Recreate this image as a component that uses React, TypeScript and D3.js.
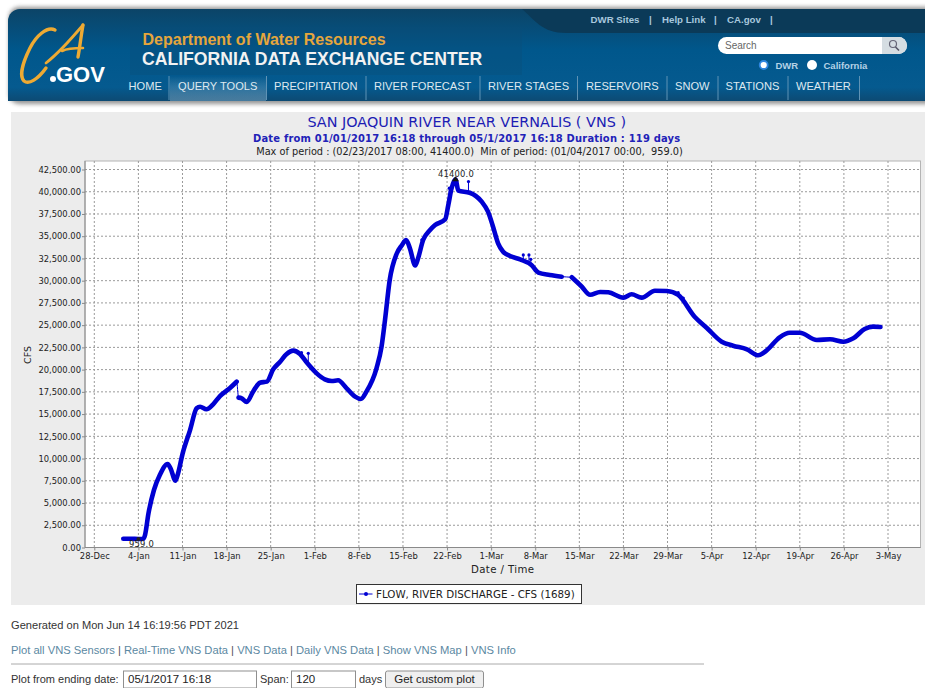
import React, { useEffect, useRef } from 'react'
import * as d3 from 'd3'

// days counted from 28-Dec-2016, flow in CFS
const flowDays = [4.6, 6, 7, 7.8, 8.05, 8.6, 9.47, 10.4, 11.65, 12.1, 12.9, 13.3, 14, 15.2, 16.25, 16.8, 17.8, 18.9, 19.95, 21.3, 22.6,
  22.9, 23.4, 24.2, 25.2, 26.3, 27.4, 28.4, 29.5, 30.5, 31.6, 32.65, 33.7, 35.3, 36.6, 37.7, 38.7, 40.06, 41.4, 42.3, 43.2, 44.8, 45.6, 46.15, 46.9, 48, 48.8, 49.5, 50.1, 50.95, 51.4, 52.2, 53.3, 54.1, 55.7, 56.2, 56.7, 57.33, 57.8, 59.6, 61.5, 62.5, 63.3, 64.1, 64.9, 66, 67.6, 69.4, 70.5, 72.3, 74.2,
  75.8, 77.4, 78.7, 80.3, 81.6, 84, 85.3, 86.9, 89, 90.9, 92.7, 95.3, 97.2, 99.6, 101.4, 103.6, 105.4, 106.7, 108.8, 110.4, 112, 114.7, 116.8, 118.9, 120.5, 122.3, 123.6, 124.8]
const flowValues = [990, 980, 959, 990, 1400, 3840, 6465, 8150, 9390, 8900, 7510, 8340, 10500, 13200, 15650, 15830, 15540, 16130, 17030, 17780, 18640,
  16850, 16770, 16360, 17520, 18530, 18650, 20030, 20890, 21720, 22130, 21760, 20820, 19580, 18910, 18720, 18800, 17900, 16960, 16700, 17520, 20150, 22580, 25580, 30080, 33030, 33960, 34570, 33640, 31710, 32520, 34570, 35700, 36260, 36900, 38510, 40340, 41400, 40120, 39890, 38880, 37760, 36070, 34200, 33260, 32780, 32400, 31760, 30900, 30640, 30450,
  30380, 29320, 28420, 28730, 28690, 28090, 28470, 28090, 28870, 28840, 28390, 25950, 24710, 23140, 22690, 22280, 21610, 22130, 23630, 24150, 24150, 23330, 23410, 23140, 23520, 24570, 24830, 24790]
// the thick line stops after these days, only the thin link carries on
const breakDays = [22.6, 74.2]

// stray readings that stick out of the line
const spikeDays = [32.9, 33.97, 52, 56.35, 59.4, 68.1, 69, 69.3, 92.7, 93.5]
const spikeTops = [21900, 21830, 34600, 40400, 41140, 32890, 32890, 32400, 28650, 28040]
const spikeBases = [21700, 20600, 34000, 39200, 39950, 32300, 31950, 31800, 28400, 27800]

const yTicks = [0, 2500, 5000, 7500, 10000, 12500, 15000, 17500, 20000, 22500, 25000, 27500, 30000, 32500, 35000, 37500, 40000, 42500]
const xTickDays = [0, 7, 14, 21, 28, 35, 42, 49, 56, 63, 70, 77, 84, 91, 98, 105, 112, 119, 126]
const xTickLabels = ['28-Dec', '4-Jan', '11-Jan', '18-Jan', '25-Jan', '1-Feb', '8-Feb', '15-Feb', '22-Feb', '1-Mar', '8-Mar', '15-Mar', '22-Mar', '29-Mar', '5-Apr', '12-Apr', '19-Apr', '26-Apr', '3-May']

const navLabels = ['HOME', 'QUERY TOOLS', 'PRECIPITATION', 'RIVER FORECAST', 'RIVER STAGES', 'RESERVOIRS', 'SNOW', 'STATIONS', 'WEATHER']
const navStarts = [128.5, 178, 274, 374, 488, 586, 675, 725.5, 796]
const navSeps = [169, 266.5, 366, 480, 577.5, 667, 718, 788, 859.5]
const topLinks = ['DWR Sites', '|', 'Help Link', '|', 'CA.gov', '|']
const topLinkStarts = [590.5, 649, 662, 714, 727, 770]
const footerLinks = ['Plot all VNS Sensors', 'Real-Time VNS Data', 'VNS Data', 'Daily VNS Data', 'Show VNS Map', 'VNS Info']

const chartFont = '"DejaVu Sans", sans-serif'
const webFont = '"Liberation Sans", Arial, sans-serif'
const lineBlue = '#0000d2'

const margin = { left: 85, right: 920.5, top: 161, bottom: 547.5 }

const x = d3.scaleLinear().domain([0, 126]).range([94.3, 888])
const y = d3.scaleLinear().domain([0, 42500]).range([margin.bottom, 169.5])

const line = d3.line<number>()
  .x(i => x(flowDays[i]))
  .y(i => y(flowValues[i]))
  .curve(d3.curveMonotoneX)

const allIdx = flowDays.map((_, i) => i)
const segments: number[][] = []
let cur: number[] = []
allIdx.forEach(i => {
  cur.push(i)
  if (breakDays.includes(flowDays[i])) {
    segments.push(cur)
    cur = []
  }
})
segments.push(cur)

export default function App() {
  const xAxisRef = useRef<SVGGElement>(null)
  const yAxisRef = useRef<SVGGElement>(null)

  useEffect(() => {
    const style = g => {
      g.selectAll('text').attr('font-family', chartFont).attr('font-size', 8.4).attr('fill', '#222')
      g.selectAll('.domain').attr('stroke', '#8a8a8a')
      g.selectAll('.tick line').attr('stroke', '#8a8a8a')
    }
    d3.select(xAxisRef.current)
      .call(d3.axisBottom(x).tickValues(xTickDays).tickSize(3).tickPadding(3).tickFormat((_, i) => xTickLabels[i]))
      .call(style)
      .call(g => g.select('.domain').attr('d', `M${margin.left},0H${margin.right}`))
    d3.select(yAxisRef.current)
      .call(d3.axisLeft(y).tickValues(yTicks).tickSize(3).tickPadding(1).tickFormat(d3.format(',.2f')))
      .call(style)
      .call(g => g.select('.domain').attr('d', `M0,${margin.top}V${margin.bottom}`))
  }, [])

  return (
    <svg width={925} height={688} style={{ position: 'absolute', left: 0, top: 0, background: '#fff' }}>
      <defs>
        <linearGradient id="hdr" x1="0" x2="0" y1="0" y2="1">
          <stop offset="0" stopColor="#0c4467" />
          <stop offset="0.45" stopColor="#00578c" />
          <stop offset="0.85" stopColor="#055a8f" />
          <stop offset="1" stopColor="#0d4a73" />
        </linearGradient>
        <linearGradient id="navHi" x1="0" x2="0" y1="0" y2="1">
          <stop offset="0" stopColor="#fff" stopOpacity="0" />
          <stop offset="1" stopColor="#9fc4dc" stopOpacity="0.4" />
        </linearGradient>
        <filter id="soft" x="-5%" y="-20%" width="110%" height="140%">
          <feGaussianBlur stdDeviation="2.2" />
        </filter>
      </defs>

      {/* banner */}
      <rect x={9} y={7} width={930} height={97} rx={10} fill="#6f6f6f" opacity={0.75} filter="url(#soft)" />
      <path d="M8,101V21a12,12 0 0 1 12,-12H925V101Z" fill="url(#hdr)" />
      <rect x={130} y={27} width={392} height={48} fill="#0c4c78" opacity={0.35} />
      <path d="M522,9C535,20 542,33 566,33H925V9Z" fill="#0b3a58" />

      {/* logo */}
      <g fill="none" stroke="#eeaa33" strokeLinecap="round" strokeLinejoin="round">
        <path d="M55,30C47,26 36,36 30,48C23,62 19,76 24,81C29,85 38,79 46,68" strokeWidth={3.4} />
        <path d="M83,25C72,38 60,52 46,63" strokeWidth={2.8} />
        <path d="M83,25C81,36 80,46 78,57" strokeWidth={3.4} />
        <path d="M62,51C68,48 76,48 83,48" strokeWidth={2.6} />
      </g>
      <circle cx={53} cy={79} r={3} fill="#fff" />
      <text x={56} y={81.5} fontFamily={webFont} fontSize={22} fontWeight="bold" fill="#fff">GOV</text>

      <text x={142.5} y={45} fontFamily={webFont} fontSize={16} fontWeight="bold" fill="#e5a63c">Department of Water Resources</text>
      <text x={142} y={65} fontFamily={webFont} fontSize={17.6} fontWeight="bold" fill="#f2f2f2">CALIFORNIA DATA EXCHANGE CENTER</text>

      {topLinks.map((t, i) => (
        <text key={i} x={topLinkStarts[i]} y={23} fontFamily={webFont} fontSize={9.7} fontWeight="bold" fill="#a8c8de">{t}</text>
      ))}

      <rect x={718} y={37} width={189} height={17} rx={8.5} fill="#fff" />
      <path d="M882,37H898.5a8.5,8.5 0 0 1 0,17H882Z" fill="#d5dde2" />
      <circle cx={893} cy={44} r={3.5} fill="none" stroke="#667" strokeWidth={1.2} />
      <path d="M895.5,47L899,50.5" stroke="#556" strokeWidth={1.6} />
      <text x={725} y={48.5} fontFamily={webFont} fontSize={10} fill="#666">Search</text>
      <circle cx={763.7} cy={65} r={4} fill="#fff" stroke="#2f86e0" strokeWidth={1.8} />
      <text x={775.5} y={69} fontFamily={webFont} fontSize={9.5} fontWeight="bold" fill="#b5d2e6">DWR</text>
      <circle cx={812} cy={65} r={5} fill="#fff" />
      <text x={823.5} y={69} fontFamily={webFont} fontSize={9.5} fontWeight="bold" fill="#b5d2e6">California</text>

      <rect x={170} y={76} width={96} height={25} fill="url(#navHi)" />
      {navLabels.map((t, i) => (
        <g key={t}>
          <text x={navStarts[i]} y={89.5} fontFamily={webFont} fontSize={11.1} fill="#dfe9f0">{t}</text>
          <line x1={navSeps[i]} x2={navSeps[i]} y1={76} y2={100} stroke="#5f93b5" />
        </g>
      ))}

      {/* chart panel */}
      <rect x={11} y={112} width={914} height={493} fill="#ececec" />
      <text x={466.7} y={126.5} textAnchor="middle" fontFamily={chartFont} fontSize={14.4} fill="#1c1cb4">SAN JOAQUIN RIVER NEAR VERNALIS ( VNS )</text>
      <text x={466.7} y={141.5} textAnchor="middle" fontFamily={chartFont} fontSize={9.95} fontWeight="bold" fill="#2222b8" letterSpacing={0.2}>Date from 01/01/2017 16:18 through 05/1/2017 16:18 Duration : 119 days</text>
      <text x={469.5} y={155} textAnchor="middle" fontFamily={chartFont} fontSize={9.75} fill="#222" style={{ whiteSpace: 'pre' }}>{'Max of period : (02/23/2017 08:00, 41400.0)  Min of period: (01/04/2017 00:00,  959.0)'}</text>

      <rect x={margin.left} y={margin.top} width={margin.right - margin.left} height={margin.bottom - margin.top} fill="#fff" stroke="#b4b4b4" />

      <g stroke="#9a9a9a" strokeDasharray="2,2">
        {yTicks.slice(1).map(v => (
          <line key={v} x1={margin.left} x2={margin.right} y1={y(v)} y2={y(v)} />
        ))}
        {xTickDays.map(d => (
          <line key={d} x1={x(d)} x2={x(d)} y1={margin.top} y2={margin.bottom} />
        ))}
      </g>

      <g ref={xAxisRef} transform={`translate(0,${margin.bottom})`} />
      <g ref={yAxisRef} transform={`translate(${margin.left},0)`} />

      <text transform="translate(31,355) rotate(-90)" textAnchor="middle" fontFamily={chartFont} fontSize={9.5} fill="#222">CFS</text>
      <text x={502.7} y={573} textAnchor="middle" fontFamily={chartFont} fontSize={10.2} fill="#222" letterSpacing={0.4}>Date / Time</text>

      {/* series */}
      <path d={line(allIdx) ?? ''} fill="none" stroke={lineBlue} strokeWidth={1} />
      {segments.map((s, i) => (
        <path key={i} d={line(s) ?? ''} fill="none" stroke={lineBlue} strokeWidth={4.6} strokeLinecap="round" strokeLinejoin="round" />
      ))}
      {spikeDays.map((d, i) => (
        <g key={d}>
          <line x1={x(d)} x2={x(d)} y1={y(spikeBases[i])} y2={y(spikeTops[i])} stroke={lineBlue} strokeWidth={1} />
          <circle cx={x(d)} cy={y(spikeTops[i])} r={1.6} fill={lineBlue} />
        </g>
      ))}
      <path d={`M${x(57.33)},${y(41400) - 3}l3.5,5h-7Z`} fill="#111" />
      <circle cx={x(7)} cy={y(959)} r={2} fill="#222" />
      <text x={456} y={176.5} textAnchor="middle" fontFamily={chartFont} fontSize={8.4} fill="#222" letterSpacing={0.2}>41400.0</text>
      <text x={141.5} y={547} textAnchor="middle" fontFamily={chartFont} fontSize={8.4} fill="#222" letterSpacing={0.2}>959.0</text>

      {/* legend */}
      <rect x={356.5} y={584.5} width={225} height={19} fill="#fff" stroke="#333" />
      <line x1={359} x2={372.5} y1={594} y2={594} stroke={lineBlue} />
      <circle cx={366} cy={594} r={2} fill={lineBlue} />
      <text x={376} y={597.5} fontFamily={chartFont} fontSize={10.3} fill="#222">FLOW, RIVER DISCHARGE - CFS (1689)</text>

      {/* page footer */}
      <text x={11} y={629} fontFamily={webFont} fontSize={11.1} fill="#333">Generated on Mon Jun 14 16:19:56 PDT 2021</text>
      <text x={11} y={654} fontFamily={webFont} fontSize={11.2} fill="#5b88a2">
        {footerLinks.map((t, i) => (
          <tspan key={t}>
            {t}
            {i < footerLinks.length - 1 ? <tspan fill="#555"> | </tspan> : null}
          </tspan>
        ))}
      </text>
      <line x1={11} x2={704} y1={664} y2={664} stroke="#aaa" />
      <text x={11} y={683} fontFamily={webFont} fontSize={11} fill="#333">Plot from ending date:</text>
      <rect x={123.5} y={671} width={133} height={17} fill="#fff" stroke="#8f8f8f" />
      <text x={128} y={683} fontFamily={webFont} fontSize={11.5} fill="#222">05/1/2017 16:18</text>
      <text x={260} y={683} fontFamily={webFont} fontSize={11} fill="#333">Span:</text>
      <rect x={291.5} y={671} width={64} height={17} fill="#fff" stroke="#8f8f8f" />
      <text x={296} y={683} fontFamily={webFont} fontSize={11.5} fill="#222">120</text>
      <text x={359} y={683} fontFamily={webFont} fontSize={11} fill="#333">days</text>
      <rect x={385.5} y={671} width={98} height={17} rx={2} fill="#efefef" stroke="#8f8f8f" />
      <text x={434.5} y={683} textAnchor="middle" fontFamily={webFont} fontSize={11.5} fill="#222">Get custom plot</text>
    </svg>
  )
}
